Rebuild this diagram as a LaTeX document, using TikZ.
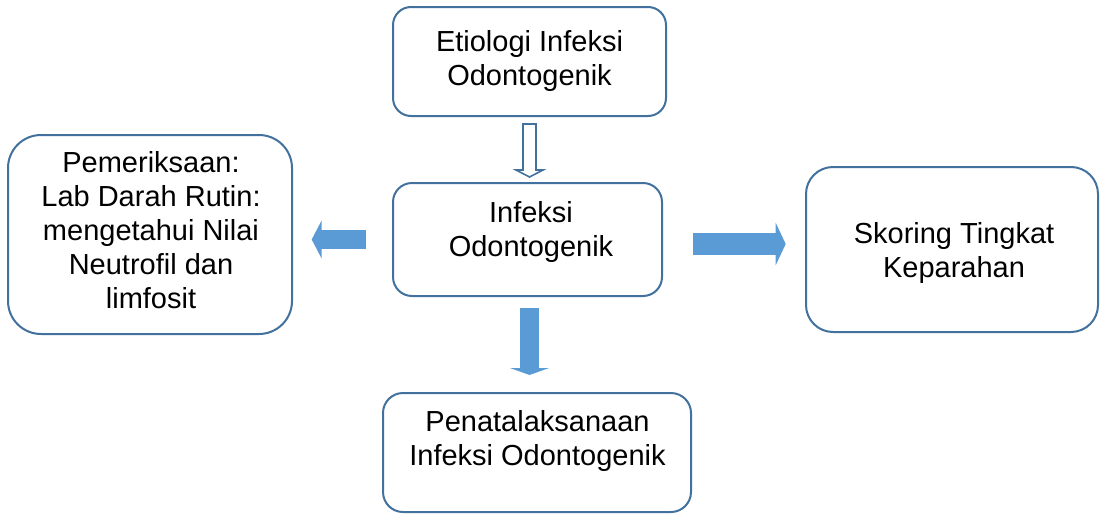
\documentclass[tikz,border=0pt]{standalone}
\usepackage{fontspec}
\setmainfont{Liberation Sans}
\usepackage{tikz}
\usetikzlibrary{arrows.meta}
\definecolor{garisbiru}{RGB}{65,113,156}
\definecolor{isibiru}{RGB}{91,155,213}
\tikzset{
    kotak/.style={draw=garisbiru, line width=2pt, fill=white},
    teks/.style={align=center, font=\fontsize{29pt}{34pt}\selectfont},
    panahisi/.style={draw=isibiru, line width=#1},
    panahkosong/.style={draw=garisbiru, line width=1.6pt, fill=white, line join=miter}
}
\begin{document}
\begin{tikzpicture}[x=1pt, y=-1pt]
        \useasboundingbox (0,0) rectangle (1102,514);

        % kotak
        \node[kotak, rounded corners=18pt, minimum width=273pt, minimum height=109pt]
            (etiologi) at (529.5,61.5) {};
        \node[kotak, rounded corners=19pt, minimum width=269pt, minimum height=113pt]
            (infeksi) at (527.5,239.5) {};
        \node[kotak, rounded corners=33pt, minimum width=284pt, minimum height=199pt]
            (periksa) at (150,234.5) {};
        \node[kotak, rounded corners=27pt, minimum width=292pt, minimum height=165pt]
            (skoring) at (952,249.5) {};
        \node[kotak, rounded corners=20pt, minimum width=308pt, minimum height=119pt]
            (tatalaksana) at (537,452.5) {};

        % teks
        \node[teks] (etiologi-teks) at (529.5,61) {Etiologi Infeksi\\Odontogenik};
        \node[teks] (infeksi-teks) at (531,231.5) {Infeksi\\Odontogenik};
        \node[teks] (periksa-teks) at (151,230)
            {Pemeriksaan:\\Lab Darah Rutin:\\mengetahui Nilai\\Neutrofil dan\\limfosit};
        \node[teks] (skoring-teks) at (954,252.5) {Skoring Tingkat\\Keparahan};
        \node[teks] (tatalaksana-teks) at (537.5,440.5) {Penatalaksanaan\\Infeksi Odontogenik};

        % panah
        \draw[panahkosong] ([xshift=-6.5pt,yshift=-7pt]etiologi.south)
            -- ++(0,46) -- ++(-7,0) -- ++(13.5,7) -- ++(13.5,-7) -- ++(-7,0) -- ++(0,-46) -- cycle;
        \draw[panahisi=19.5pt, -{Triangle[width=38pt,length=10pt]},
            shorten <=26pt, shorten >=18.7pt]
            (infeksi.west) -- (infeksi.west -| periksa.east);
        \draw[panahisi=21.7pt, -{Triangle[width=42pt,length=10pt]},
            shorten <=29.7pt, shorten >=19.3pt]
            ([yshift=-4.5pt]infeksi.east) -- ([yshift=-4.5pt]infeksi.east -| skoring.west);
        \draw[panahisi=19pt, -{Triangle[width=39pt,length=7pt]},
            shorten <=11pt, shorten >=17pt]
            ([xshift=2pt]infeksi.south) -- ([xshift=2pt]infeksi.south |- tatalaksana.north);
    \end{tikzpicture}
\end{document}
